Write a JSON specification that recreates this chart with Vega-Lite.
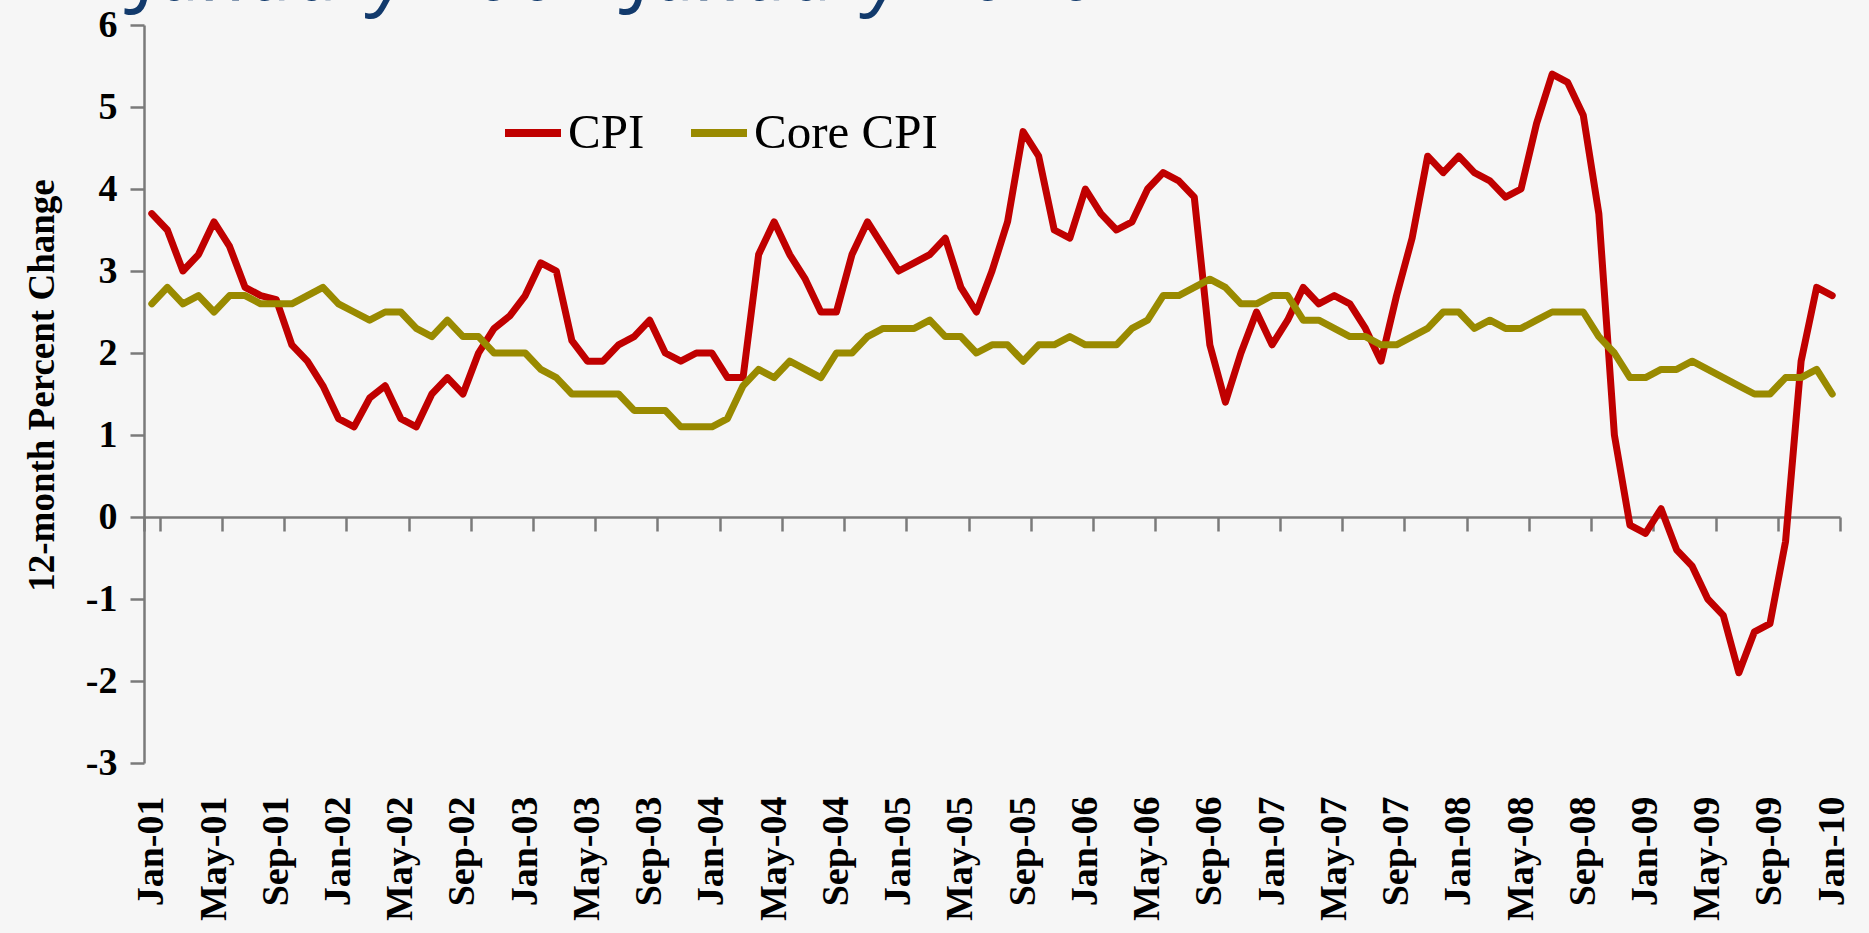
{
  "$schema": "https://vega.github.io/schema/vega-lite/v6.json",
  "autosize": {"type": "none"},
  "width": 1696,
  "height": 738,
  "padding": {"left": 144, "top": 25, "right": 29, "bottom": 170},
  "background": "#f6f6f6",
  "config": {
    "view": {"stroke": null},
    "axis": {"domainColor": "#7a7a7a", "domainWidth": 2.5, "tickColor": "#7a7a7a", "tickWidth": 2.5, "tickSize": 14, "grid": false}
  },
  "title": {
    "text": "January 2001-January 2010",
    "anchor": "start",
    "frame": "group",
    "font": "Open Sans",
    "fontStyle": "italic",
    "fontWeight": "normal",
    "fontSize": 80,
    "color": "#123a6c",
    "baseline": "alphabetic",
    "offset": 0,
    "dx": -7,
    "dy": 74
  },
  "data": {"values": [
    {"m":"Jan-01","CPI":3.7,"Core CPI":2.6},{"m":"Feb-01","CPI":3.5,"Core CPI":2.8},{"m":"Mar-01","CPI":3.0,"Core CPI":2.6},{"m":"Apr-01","CPI":3.2,"Core CPI":2.7},{"m":"May-01","CPI":3.6,"Core CPI":2.5},{"m":"Jun-01","CPI":3.3,"Core CPI":2.7},{"m":"Jul-01","CPI":2.8,"Core CPI":2.7},{"m":"Aug-01","CPI":2.7,"Core CPI":2.6},{"m":"Sep-01","CPI":2.65,"Core CPI":2.6},{"m":"Oct-01","CPI":2.1,"Core CPI":2.6},{"m":"Nov-01","CPI":1.9,"Core CPI":2.7},{"m":"Dec-01","CPI":1.6,"Core CPI":2.8},
    {"m":"Jan-02","CPI":1.2,"Core CPI":2.6},{"m":"Feb-02","CPI":1.1,"Core CPI":2.5},{"m":"Mar-02","CPI":1.45,"Core CPI":2.4},{"m":"Apr-02","CPI":1.6,"Core CPI":2.5},{"m":"May-02","CPI":1.2,"Core CPI":2.5},{"m":"Jun-02","CPI":1.1,"Core CPI":2.3},{"m":"Jul-02","CPI":1.5,"Core CPI":2.2},{"m":"Aug-02","CPI":1.7,"Core CPI":2.4},{"m":"Sep-02","CPI":1.5,"Core CPI":2.2},{"m":"Oct-02","CPI":2.0,"Core CPI":2.2},{"m":"Nov-02","CPI":2.3,"Core CPI":2.0},{"m":"Dec-02","CPI":2.45,"Core CPI":2.0},
    {"m":"Jan-03","CPI":2.7,"Core CPI":2.0},{"m":"Feb-03","CPI":3.1,"Core CPI":1.8},{"m":"Mar-03","CPI":3.0,"Core CPI":1.7},{"m":"Apr-03","CPI":2.15,"Core CPI":1.5},{"m":"May-03","CPI":1.9,"Core CPI":1.5},{"m":"Jun-03","CPI":1.9,"Core CPI":1.5},{"m":"Jul-03","CPI":2.1,"Core CPI":1.5},{"m":"Aug-03","CPI":2.2,"Core CPI":1.3},{"m":"Sep-03","CPI":2.4,"Core CPI":1.3},{"m":"Oct-03","CPI":2.0,"Core CPI":1.3},{"m":"Nov-03","CPI":1.9,"Core CPI":1.1},{"m":"Dec-03","CPI":2.0,"Core CPI":1.1},
    {"m":"Jan-04","CPI":2.0,"Core CPI":1.1},{"m":"Feb-04","CPI":1.7,"Core CPI":1.2},{"m":"Mar-04","CPI":1.7,"Core CPI":1.6},{"m":"Apr-04","CPI":3.2,"Core CPI":1.8},{"m":"May-04","CPI":3.6,"Core CPI":1.7},{"m":"Jun-04","CPI":3.2,"Core CPI":1.9},{"m":"Jul-04","CPI":2.9,"Core CPI":1.8},{"m":"Aug-04","CPI":2.5,"Core CPI":1.7},{"m":"Sep-04","CPI":2.5,"Core CPI":2.0},{"m":"Oct-04","CPI":3.2,"Core CPI":2.0},{"m":"Nov-04","CPI":3.6,"Core CPI":2.2},{"m":"Dec-04","CPI":3.3,"Core CPI":2.3},
    {"m":"Jan-05","CPI":3.0,"Core CPI":2.3},{"m":"Feb-05","CPI":3.1,"Core CPI":2.3},{"m":"Mar-05","CPI":3.2,"Core CPI":2.4},{"m":"Apr-05","CPI":3.4,"Core CPI":2.2},{"m":"May-05","CPI":2.8,"Core CPI":2.2},{"m":"Jun-05","CPI":2.5,"Core CPI":2.0},{"m":"Jul-05","CPI":3.0,"Core CPI":2.1},{"m":"Aug-05","CPI":3.6,"Core CPI":2.1},{"m":"Sep-05","CPI":4.7,"Core CPI":1.9},{"m":"Oct-05","CPI":4.4,"Core CPI":2.1},{"m":"Nov-05","CPI":3.5,"Core CPI":2.1},{"m":"Dec-05","CPI":3.4,"Core CPI":2.2},
    {"m":"Jan-06","CPI":4.0,"Core CPI":2.1},{"m":"Feb-06","CPI":3.7,"Core CPI":2.1},{"m":"Mar-06","CPI":3.5,"Core CPI":2.1},{"m":"Apr-06","CPI":3.6,"Core CPI":2.3},{"m":"May-06","CPI":4.0,"Core CPI":2.4},{"m":"Jun-06","CPI":4.2,"Core CPI":2.7},{"m":"Jul-06","CPI":4.1,"Core CPI":2.7},{"m":"Aug-06","CPI":3.9,"Core CPI":2.8},{"m":"Sep-06","CPI":2.1,"Core CPI":2.9},{"m":"Oct-06","CPI":1.4,"Core CPI":2.8},{"m":"Nov-06","CPI":2.0,"Core CPI":2.6},{"m":"Dec-06","CPI":2.5,"Core CPI":2.6},
    {"m":"Jan-07","CPI":2.1,"Core CPI":2.7},{"m":"Feb-07","CPI":2.4,"Core CPI":2.7},{"m":"Mar-07","CPI":2.8,"Core CPI":2.4},{"m":"Apr-07","CPI":2.6,"Core CPI":2.4},{"m":"May-07","CPI":2.7,"Core CPI":2.3},{"m":"Jun-07","CPI":2.6,"Core CPI":2.2},{"m":"Jul-07","CPI":2.3,"Core CPI":2.2},{"m":"Aug-07","CPI":1.9,"Core CPI":2.1},{"m":"Sep-07","CPI":2.7,"Core CPI":2.1},{"m":"Oct-07","CPI":3.4,"Core CPI":2.2},{"m":"Nov-07","CPI":4.4,"Core CPI":2.3},{"m":"Dec-07","CPI":4.2,"Core CPI":2.5},
    {"m":"Jan-08","CPI":4.4,"Core CPI":2.5},{"m":"Feb-08","CPI":4.2,"Core CPI":2.3},{"m":"Mar-08","CPI":4.1,"Core CPI":2.4},{"m":"Apr-08","CPI":3.9,"Core CPI":2.3},{"m":"May-08","CPI":4.0,"Core CPI":2.3},{"m":"Jun-08","CPI":4.8,"Core CPI":2.4},{"m":"Jul-08","CPI":5.4,"Core CPI":2.5},{"m":"Aug-08","CPI":5.3,"Core CPI":2.5},{"m":"Sep-08","CPI":4.9,"Core CPI":2.5},{"m":"Oct-08","CPI":3.7,"Core CPI":2.2},{"m":"Nov-08","CPI":1.0,"Core CPI":2.0},{"m":"Dec-08","CPI":-0.1,"Core CPI":1.7},
    {"m":"Jan-09","CPI":-0.2,"Core CPI":1.7},{"m":"Feb-09","CPI":0.1,"Core CPI":1.8},{"m":"Mar-09","CPI":-0.4,"Core CPI":1.8},{"m":"Apr-09","CPI":-0.6,"Core CPI":1.9},{"m":"May-09","CPI":-1.0,"Core CPI":1.8},{"m":"Jun-09","CPI":-1.2,"Core CPI":1.7},{"m":"Jul-09","CPI":-1.9,"Core CPI":1.6},{"m":"Aug-09","CPI":-1.4,"Core CPI":1.5},{"m":"Sep-09","CPI":-1.3,"Core CPI":1.5},{"m":"Oct-09","CPI":-0.3,"Core CPI":1.7},{"m":"Nov-09","CPI":1.9,"Core CPI":1.7},{"m":"Dec-09","CPI":2.8,"Core CPI":1.8},
    {"m":"Jan-10","CPI":2.7,"Core CPI":1.5}
  ]},
  "transform": [{"fold": ["CPI", "Core CPI"], "as": ["series", "value"]}],
  "mark": {"type": "line", "strokeWidth": 7, "strokeJoin": "round", "strokeCap": "round"},
  "encoding": {
    "x": {
      "field": "m",
      "type": "ordinal",
      "sort": null,
      "bandPosition": 0.5,
      "scale": {"type": "band", "paddingInner": 0, "paddingOuter": 0},
      "axis": {
        "title": null,
        "orient": "bottom",
        "offset": -246,
        "tickBand": "extent",
        "values": ["Jan-01","May-01","Sep-01","Jan-02","May-02","Sep-02","Jan-03","May-03","Sep-03","Jan-04","May-04","Sep-04","Jan-05","May-05","Sep-05","Jan-06","May-06","Sep-06","Jan-07","May-07","Sep-07","Jan-08","May-08","Sep-08","Jan-09","May-09","Sep-09","Jan-10"],
        "labelAngle": -90,
        "labelAlign": "right",
        "labelBaseline": "middle",
        "labelPadding": 265,
        "labelOverlap": false,
        "labelFont": "Liberation Serif",
        "labelFontSize": 38,
        "labelFontWeight": "bold",
        "labelColor": "#000000"
      }
    },
    "y": {
      "field": "value",
      "type": "quantitative",
      "scale": {"domain": [-3, 6], "nice": false, "zero": false},
      "axis": {
        "values": [-3, -2, -1, 0, 1, 2, 3, 4, 5, 6],
        "labelExpr": "'' + datum.value",
        "labelFont": "Liberation Serif",
        "labelFontSize": 38,
        "labelFontWeight": "bold",
        "labelColor": "#000000",
        "labelPadding": 13,
        "title": "12-month Percent Change",
        "titleFont": "Liberation Serif",
        "titleFontSize": 37,
        "titleFontWeight": "bold",
        "titleColor": "#000000",
        "titleAngle": -90,
        "titleAlign": "center",
        "titleBaseline": "middle",
        "titleX": -102,
        "titleY": 360
      }
    },
    "color": {
      "field": "series",
      "type": "nominal",
      "scale": {"domain": ["CPI", "Core CPI"], "range": ["#c00000", "#998a00"]},
      "legend": {
        "title": null,
        "orient": "none",
        "direction": "horizontal",
        "legendX": 357,
        "legendY": 76,
        "symbolType": "stroke",
        "symbolSize": 3136,
        "symbolStrokeWidth": 8,
        "labelFont": "Liberation Serif",
        "labelFontSize": 49,
        "labelColor": "#000000",
        "labelOffset": 3,
        "columnPadding": 30,
        "labelLimit": 400
      }
    }
  }
}
